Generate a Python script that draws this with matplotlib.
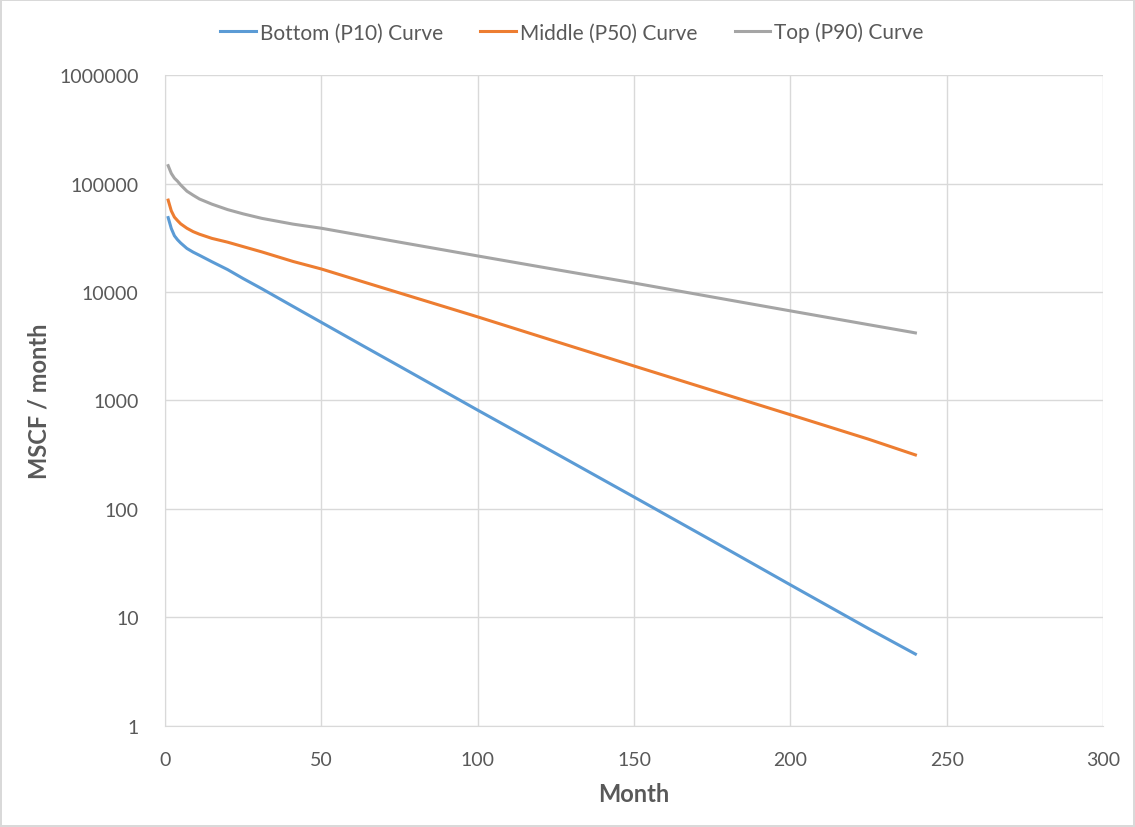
import numpy as np
import matplotlib.pyplot as plt

months = [1, 2, 3, 4, 5, 7, 9, 11, 15, 20, 25, 31, 41, 50, 63, 75, 100, 125, 150, 175, 200, 225, 240]

bottom_p10 = [48500, 38500, 33000, 30300, 28300, 25200, 23300, 21800, 19000, 16100, 13300, 10700,
              7350, 5250, 3230, 2070, 815, 325, 129, 51, 20, 7.9, 4.6]
middle_p50 = [70300, 56000, 49000, 45500, 42500, 38700, 36000, 34100, 31200, 28800, 26200, 23400,
              19100, 16300, 12500, 9800, 5900, 3500, 2080, 1240, 740, 440, 315]
top_p90 = [146000, 124000, 112000, 105000, 97000, 85000, 78000, 72000, 64500, 57500, 52500, 47700,
           42200, 38700, 33200, 28800, 21500, 16100, 12100, 9000, 6700, 5000, 4200]

series = [("Bottom (P10) Curve", bottom_p10, "#5B9BD5"),
          ("Middle (P50) Curve", middle_p50, "#ED7D31"),
          ("Top (P90) Curve", top_p90, "#A5A5A5")]

plt.rcParams['font.family'] = ['Lato', 'DejaVu Sans']

fig = plt.figure(figsize=(11.35, 8.28), dpi=100)
fig.patch.set_edgecolor("#D9D9D9")
fig.patch.set_linewidth(1.5)
ax = fig.add_axes([0.1454, 0.122, 0.8264, 0.7862])

for name, vals, col in series:
    ax.plot(months, vals, color=col, lw=2.2, label=name)

ax.set_yscale("log")
ax.set_ylim(1, 1e6)
ax.set_xlim(0, 300)
ax.set_xticks(np.arange(0, 301, 50))
ax.set_yticks([1, 10, 100, 1000, 10000, 100000, 1000000])
ax.set_yticklabels(["1", "10", "100", "1000", "10000", "100000", "1000000"])
ax.minorticks_off()
ax.grid(True, color="#D9D9D9", lw=1)
ax.set_axisbelow(True)
for s in ax.spines.values():
    s.set_visible(False)
ax.spines['left'].set_visible(True)
ax.spines['left'].set_color("#D9D9D9")
ax.spines['bottom'].set_visible(True)
ax.spines['bottom'].set_color("#D9D9D9")
ax.tick_params(length=0, labelsize=14, colors="#595959")
ax.tick_params(axis="y", pad=19)
ax.tick_params(axis="x", pad=18)

ax.set_xlabel("Month", fontsize=17, fontweight="bold", color="#595959", labelpad=10)
ax.set_ylabel("MSCF / month", fontsize=17, fontweight="bold", color="#595959", labelpad=6)

fig.legend(loc="upper center", bbox_to_anchor=(0.504, 0.995), ncol=3, frameon=False,
           fontsize=15, labelcolor="#595959", handlelength=1.7, handletextpad=0.2, columnspacing=1.8)

fig.savefig("out.png", dpi=100)
